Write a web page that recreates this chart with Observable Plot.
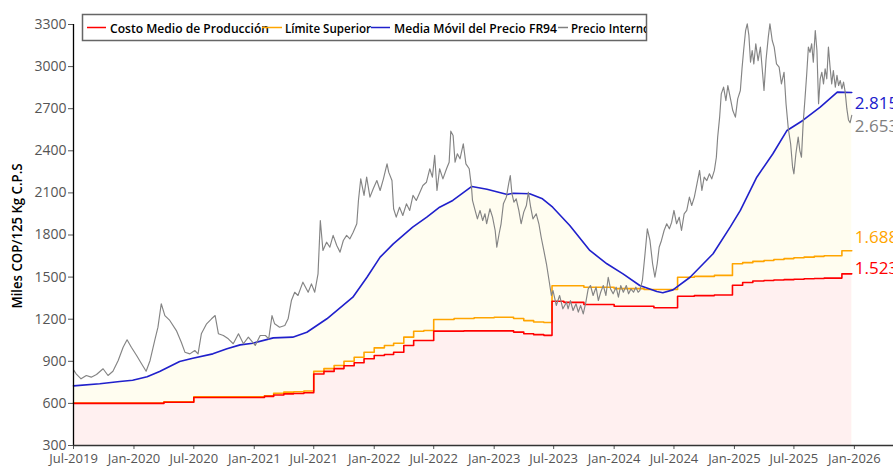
<!DOCTYPE html>
<html><head><meta charset="utf-8">
<script src="https://cdn.jsdelivr.net/npm/d3@7"></script>
<script src="https://cdn.jsdelivr.net/npm/@observablehq/plot@0.6"></script>
<style>
body{margin:0;background:#fff;overflow:hidden;}
#wrap{position:relative;width:893px;height:466px;overflow:hidden;}
#wrap svg.plot, #wrap > svg {display:block;}
g[aria-label="y-axis tick label"] text, g[aria-label="y-axis"] text {font-size:14px;}
#over{position:absolute;left:0;top:0;pointer-events:none;}
</style></head><body><div id="wrap"></div>
<script>
// ---- Precio Interno (gray) ----
const precioFechas = ["2019-07-01","2019-07-09","2019-07-24","2019-08-09","2019-08-24","2019-09-09","2019-09-29","2019-10-14","2019-10-29","2019-11-14","2019-11-29","2019-12-11","2019-12-24","2020-01-09","2020-01-24","2020-02-07","2020-02-19","2020-03-04","2020-03-14","2020-03-24","2020-04-04","2020-04-19","2020-05-09","2020-05-24","2020-06-04","2020-06-19","2020-07-04","2020-07-14","2020-07-24","2020-08-09","2020-08-24","2020-09-04","2020-09-14","2020-09-29","2020-10-14","2020-10-29","2020-11-14","2020-11-29","2020-12-14","2021-01-04","2021-01-19","2021-02-04","2021-02-14","2021-02-24","2021-03-04","2021-03-19","2021-04-04","2021-04-14","2021-04-24","2021-05-04","2021-05-14","2021-05-29","2021-06-14","2021-06-24","2021-07-04","2021-07-14","2021-07-21","2021-07-29","2021-08-09","2021-08-19","2021-08-29","2021-09-09","2021-09-19","2021-09-29","2021-10-09","2021-10-19","2021-10-29","2021-11-09","2021-11-14","2021-11-21","2021-12-01","2021-12-09","2021-12-19","2021-12-29","2022-01-09","2022-01-19","2022-01-29","2022-02-09","2022-02-14","2022-02-24","2022-03-01","2022-03-09","2022-03-19","2022-03-29","2022-04-09","2022-04-19","2022-04-29","2022-05-09","2022-05-19","2022-05-29","2022-06-09","2022-06-19","2022-06-27","2022-07-04","2022-07-11","2022-07-19","2022-07-29","2022-08-09","2022-08-17","2022-08-22","2022-08-29","2022-09-04","2022-09-11","2022-09-19","2022-09-29","2022-10-07","2022-10-17","2022-10-24","2022-10-27","2022-11-04","2022-11-11","2022-11-19","2022-11-27","2022-12-04","2022-12-09","2022-12-19","2022-12-27","2023-01-04","2023-01-09","2023-01-16","2023-01-22","2023-01-29","2023-02-07","2023-02-14","2023-02-19","2023-02-24","2023-03-02","2023-03-09","2023-03-17","2023-03-24","2023-04-01","2023-04-09","2023-04-15","2023-04-22","2023-04-29","2023-05-09","2023-05-17","2023-05-24","2023-06-01","2023-06-09","2023-06-17","2023-06-24","2023-06-29","2023-07-09","2023-07-19","2023-07-29","2023-08-09","2023-08-14","2023-08-21","2023-08-29","2023-09-07","2023-09-14","2023-09-21","2023-09-29","2023-10-07","2023-10-14","2023-10-21","2023-10-29","2023-11-07","2023-11-14","2023-11-21","2023-11-29","2023-12-07","2023-12-14","2023-12-21","2023-12-29","2024-01-07","2024-01-14","2024-01-21","2024-01-29","2024-02-07","2024-02-14","2024-02-21","2024-02-29","2024-03-07","2024-03-14","2024-03-19","2024-03-27","2024-04-04","2024-04-11","2024-04-19","2024-04-27","2024-05-04","2024-05-11","2024-05-17","2024-05-24","2024-06-01","2024-06-09","2024-06-17","2024-06-24","2024-07-01","2024-07-09","2024-07-17","2024-07-24","2024-08-01","2024-08-09","2024-08-17","2024-08-24","2024-09-01","2024-09-09","2024-09-17","2024-09-24","2024-10-01","2024-10-09","2024-10-17","2024-10-24","2024-11-01","2024-11-07","2024-11-11","2024-11-17","2024-11-22","2024-11-29","2024-12-06","2024-12-12","2024-12-19","2024-12-27","2025-01-04","2025-01-11","2025-01-19","2025-01-24","2025-01-29","2025-02-04","2025-02-09","2025-02-14","2025-02-19","2025-02-24","2025-03-01","2025-03-07","2025-03-14","2025-03-21","2025-03-27","2025-04-01","2025-04-07","2025-04-14","2025-04-19","2025-04-26","2025-05-02","2025-05-09","2025-05-17","2025-05-24","2025-06-01","2025-06-07","2025-06-14","2025-06-21","2025-06-27","2025-07-01","2025-07-07","2025-07-14","2025-07-19","2025-07-24","2025-07-29","2025-08-04","2025-08-09","2025-08-14","2025-08-19","2025-08-24","2025-08-29","2025-09-04","2025-09-09","2025-09-14","2025-09-19","2025-09-24","2025-09-29","2025-10-04","2025-10-09","2025-10-14","2025-10-19","2025-10-24","2025-10-29","2025-11-04","2025-11-09","2025-11-14","2025-11-19","2025-11-24","2025-11-29","2025-12-04","2025-12-09","2025-12-14","2025-12-19","2025-12-24"];
const precioValores = [839,811,775,799,787,806,847,799,829,906,1000,1053,1000,941,882,829,906,1048,1143,1310,1226,1191,1119,1036,965,953,977,953,1096,1167,1203,1226,1096,1084,1060,1025,1096,1025,1072,1013,1084,1084,1060,1226,1167,1143,1155,1203,1333,1392,1369,1464,1392,1452,1392,1523,1903,1690,1749,1713,1797,1725,1678,1761,1797,1773,1820,1880,2046,2200,2082,2212,2070,2129,2188,2117,2200,2307,2248,2188,1987,1927,1998,1939,2022,1975,2082,2046,2100,2153,2176,2272,2212,2367,2117,2272,2200,2272,2319,2540,2509,2319,2379,2343,2450,2307,2272,2141,2046,1975,1915,1975,1903,1951,1880,1987,1927,1832,1713,1809,1880,2022,2070,2165,2224,2094,2034,2058,1975,1880,1963,2010,2105,1998,1915,1951,1880,1784,1690,1595,1476,1369,1404,1298,1369,1274,1321,1274,1333,1262,1310,1250,1298,1238,1321,1416,1440,1369,1428,1333,1392,1440,1369,1499,1416,1381,1428,1357,1440,1392,1440,1381,1416,1392,1428,1392,1404,1476,1666,1844,1761,1595,1499,1595,1713,1761,1832,1880,1844,1891,1975,1880,1927,1832,1951,1975,2070,2010,2070,2165,2260,2117,2212,2188,2236,2200,2260,2354,2497,2640,2806,2854,2758,2865,2782,2687,2640,2770,2830,2984,3115,3257,3305,3222,3031,3115,3019,3163,3043,3139,2972,2830,3043,3210,3305,3186,3139,3019,2996,2877,2960,2735,2556,2450,2283,2236,2379,2497,2402,2354,2592,2782,2949,3139,3102,3163,3031,3257,3115,2735,2913,2960,2877,2984,2913,3139,2996,2877,2972,2854,2937,2865,2901,2842,2889,2818,2700,2620,2600,2653];

// ---- Media Móvil del Precio FR94 (blue) ----
const mediaFechas = ["2019-07-01","2019-09-19","2019-11-19","2019-12-28","2020-02-10","2020-03-19","2020-05-19","2020-06-28","2020-08-28","2020-10-10","2020-11-19","2020-12-28","2021-02-28","2021-04-28","2021-06-10","2021-08-10","2021-10-28","2021-12-10","2022-01-19","2022-02-28","2022-04-28","2022-06-10","2022-07-19","2022-08-28","2022-10-25","2022-12-10","2023-02-10","2023-02-28","2023-04-19","2023-05-28","2023-06-28","2023-08-19","2023-10-19","2023-12-10","2024-01-28","2024-03-19","2024-05-10","2024-05-28","2024-06-28","2024-08-19","2024-10-28","2024-12-19","2025-01-19","2025-03-10","2025-04-28","2025-06-10","2025-07-28","2025-09-19","2025-11-10","2025-12-24"];
const mediaValores = [725,740,756,765,790,827,899,922,953,989,1017,1029,1067,1072,1107,1203,1357,1499,1642,1737,1856,1927,1998,2046,2146,2126,2089,2098,2094,2058,1998,1868,1690,1595,1523,1440,1397,1388,1409,1499,1666,1856,1975,2212,2379,2545,2616,2711,2818,2815];

// ---- Costo Medio de Producción (red, steps) ----
const costoFechas = ["2019-07-01","2020-04-01","2020-07-01","2021-02-01","2021-03-01","2021-04-01","2021-05-01","2021-06-01","2021-07-01","2021-08-01","2021-09-01","2021-10-01","2021-11-01","2021-12-01","2022-01-01","2022-02-01","2022-03-01","2022-04-01","2022-05-01","2022-07-01","2022-10-01","2023-03-01","2023-04-01","2023-05-01","2023-06-01","2023-06-26","2023-08-01","2023-10-01","2024-01-01","2024-05-01","2024-07-12","2024-09-01","2024-11-01","2024-12-26","2025-01-26","2025-02-26","2025-04-01","2025-05-01","2025-06-01","2025-07-01","2025-08-01","2025-09-01","2025-10-01","2025-11-24","2025-12-24"];
const costoValores = [600,608,642,650,660,668,671,676,810,828,848,868,890,918,941,948,965,1013,1048,1115,1117,1108,1096,1090,1085,1328,1320,1305,1292,1282,1364,1368,1372,1442,1462,1472,1476,1479,1482,1485,1488,1490,1493,1523,1523];

// ---- Límite Superior (orange, steps) ----
const limiteFechas = ["2019-07-01","2020-04-01","2020-07-01","2021-02-01","2021-03-01","2021-04-01","2021-05-01","2021-06-01","2021-07-01","2021-08-01","2021-09-01","2021-10-01","2021-11-01","2021-12-01","2022-01-01","2022-02-01","2022-03-01","2022-04-01","2022-05-01","2022-06-01","2022-07-01","2022-09-01","2022-11-01","2023-01-01","2023-03-01","2023-04-01","2023-05-01","2023-06-01","2023-06-26","2023-10-01","2024-01-01","2024-04-01","2024-07-12","2024-09-01","2024-11-01","2024-12-26","2025-01-26","2025-02-26","2025-04-01","2025-05-01","2025-06-01","2025-07-01","2025-08-01","2025-09-01","2025-10-01","2025-11-24","2025-12-24"];
const limiteValores = [602,611,647,655,672,680,683,688,828,848,870,900,929,965,996,1013,1029,1072,1114,1119,1198,1205,1210,1214,1205,1190,1180,1176,1438,1428,1418,1412,1499,1505,1512,1595,1603,1612,1618,1625,1632,1638,1642,1648,1652,1688,1688];

// ---- axes / labels ----
const xTicks = ["2019-07-01","2020-01-01","2020-07-01","2021-01-01","2021-07-01","2022-01-01","2022-07-01","2023-01-01","2023-07-01","2024-01-01","2024-07-01","2025-01-01","2025-07-01","2026-01-01"];
const yTicks = [300,600,900,1200,1500,1800,2100,2400,2700,3000,3300];
const serieNombres = ["Costo Medio de Producción","Límite Superior","Media Móvil del Precio FR94","Precio Interno"];
const yTitulo = "Miles COP/125 Kg C.P.S";

const toRows = (f, v) => f.map((d, i) => ({date: new Date(d), v: v[i]}));
const precio = toRows(precioFechas, precioValores);
const media = toRows(mediaFechas, mediaValores);
const costo = toRows(costoFechas, costoValores);
const limite = toRows(limiteFechas, limiteValores);
const fmtES = v => d3.format(",")(v).replace(/,/g, ".");

const endLabel = (rows, color, dy) => Plot.text([rows[rows.length - 1]], {
  x: "date", y: "v", text: d => fmtES(d.v), fill: color, dx: 3, dy,
  textAnchor: "start", fontSize: 17
});

const chart = Plot.plot({
  width: 893, height: 466,
  marginLeft: 73, marginRight: 0, marginTop: 24, marginBottom: 21,
  style: {fontFamily: "'Open Sans', sans-serif", fontSize: "13px", color: "#555", background: "white", overflow: "hidden"},
  x: {type: "utc", domain: [new Date("2019-07-01"), new Date("2026-04-30")], ticks: xTicks.map(d => new Date(d)), tickFormat: d3.utcFormat("%b-%Y"), tickSize: 4, tickPadding: 4, label: null},
  y: {domain: [300, 3300], ticks: yTicks, tickFormat: d => String(d), tickSize: 5, tickPadding: 2, label: null},
  marks: [
    Plot.areaY(media, {x: "date", y1: () => 300, y2: "v", fill: "#fffdf0"}),
    Plot.areaY(costo, {x: "date", y1: () => 300, y2: "v", curve: "step-after", fill: "#fff0f0"}),
    Plot.line(limite, {x: "date", y: "v", curve: "step-after", stroke: "#ffa500", strokeWidth: 1.6}),
    Plot.line(costo, {x: "date", y: "v", curve: "step-after", stroke: "#ff0000", strokeWidth: 1.6}),
    Plot.line(media, {x: "date", y: "v", stroke: "#2020cc", strokeWidth: 1.6}),
    Plot.line(precio, {x: "date", y: "v", stroke: "#848484", strokeWidth: 1.15}),
    Plot.ruleX([new Date("2019-07-01")], {stroke: "#000", strokeWidth: 1.3}),
    Plot.ruleY([300], {stroke: "#333", strokeWidth: 1.3}),
    endLabel(media, "#2020cc", 11),
    endLabel(precio, "#808080", 11),
    endLabel(limite, "#ffa500", -13),
    endLabel(costo, "#ff0000", -5)
  ]
});

const wrap = document.getElementById("wrap");
wrap.appendChild(chart);

// overlay: legend box and y title
const over = d3.select(wrap).append("svg").attr("id", "over").attr("width", 893).attr("height", 466)
  .attr("font-family", "'Open Sans', sans-serif");
over.append("clipPath").attr("id", "legclip").append("rect").attr("x", 83).attr("y", 15).attr("width", 563).attr("height", 25);
over.append("rect").attr("x", 82.5).attr("y", 14.5).attr("width", 564).attr("height", 26)
  .attr("fill", "white").attr("stroke", "#666").attr("stroke-width", 1.5);
const lg = over.append("g").attr("clip-path", "url(#legclip)");
const legColors = ["#ff0000", "#ffa500", "#2020cc", "#808080"];
const legLine = [[87, 106], [262, 282], [371, 390], [558, 568]];
const legText = [110, 285, 394, 571];
const legLen = [159, 86, 163, 79];
serieNombres.forEach((n, i) => {
  lg.append("line").attr("x1", legLine[i][0]).attr("x2", legLine[i][1]).attr("y1", 27.5).attr("y2", 27.5)
    .attr("stroke", legColors[i]).attr("stroke-width", 1.5);
  lg.append("text").attr("x", legText[i]).attr("y", 32.5).attr("font-size", 13).attr("font-weight", 600)
    .attr("fill", "#000").attr("textLength", legLen[i]).attr("lengthAdjust", "spacingAndGlyphs").text(n);
});
over.append("text").attr("transform", "translate(22,236) rotate(-90)").attr("text-anchor", "middle")
  .attr("font-size", 13.5).attr("font-weight", 600).attr("fill", "#000")
  .attr("textLength", 145).attr("lengthAdjust", "spacingAndGlyphs").text(yTitulo);
</script></body></html>
